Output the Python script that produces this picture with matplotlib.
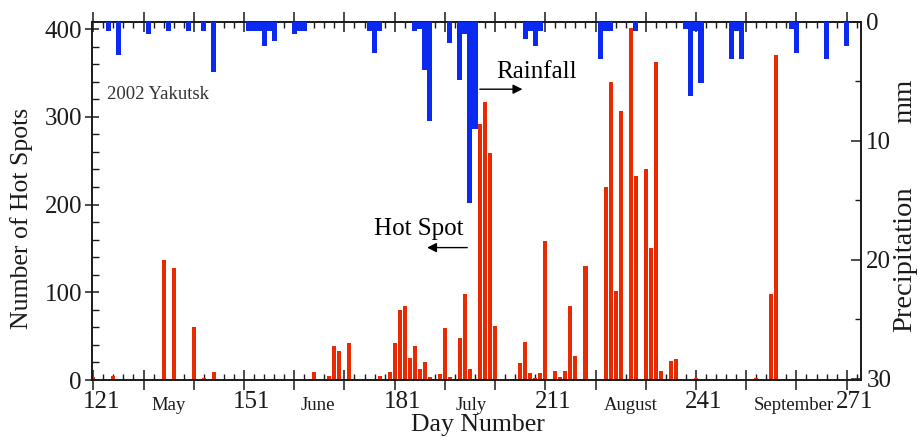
import matplotlib
matplotlib.use('Agg')
import matplotlib.pyplot as plt
from matplotlib.ticker import MultipleLocator, FuncFormatter
import matplotlib.transforms as mtransforms

# Hot spot counts per day
hs_days = [121, 125, 135, 137, 141, 143, 145, 165, 168, 169, 170, 172, 178, 180,
           181, 182, 183, 184, 185, 186, 187, 188, 190, 191, 192, 194, 195, 196,
           198, 199, 200, 201, 206, 207, 208, 209, 210, 211, 213, 214, 215, 216,
           217, 219, 223, 224, 225, 226, 228, 229, 231, 232, 233, 234, 236, 237,
           241, 253, 256, 257]
hs_vals = [3, 5, 137, 128, 60, 2, 9, 9, 5, 39, 33, 42, 5, 9,
           42, 80, 84, 25, 39, 12, 20, 3, 7, 59, 3, 48, 98, 13,
           292, 317, 259, 61, 19, 43, 8, 2, 8, 158, 10, 4, 10, 84,
           27, 130, 220, 340, 101, 306, 401, 233, 240, 151, 362, 10, 22, 24,
           2, 2, 98, 370]

# Precipitation (mm) per day
pr_days = [124, 126, 132, 136, 140, 143, 145, 152, 153, 154, 155, 156, 157, 161,
           162, 163, 176, 177, 178, 185, 186, 187, 188, 192, 194, 195, 196, 197,
           207, 208, 209, 210, 222, 223, 224, 229, 239, 240, 241, 242, 248, 249,
           250, 260, 261, 267, 271]
pr_vals = [0.8, 2.8, 1.0, 0.8, 0.8, 0.8, 4.2, 0.8, 0.8, 0.8, 2.0, 0.8, 1.6, 1.0,
           0.8, 0.8, 0.8, 2.6, 0.8, 0.8, 0.6, 4.0, 8.3, 1.8, 4.9, 1.0, 15.2, 9.0,
           1.4, 0.8, 2.0, 0.8, 3.1, 0.8, 0.8, 0.8, 0.6, 6.2, 0.8, 5.1, 3.1, 0.8,
           3.1, 0.6, 2.6, 3.1, 2.0]

day_label_ticks = [121, 151, 181, 211, 241, 271]
month_names = ['May', 'June', 'July', 'August', 'September']
month_pos = [136, 165.7, 196.2, 228, 260.4]

plt.rcParams['font.family'] = ['Liberation Serif', 'DejaVu Serif']
RED = '#E82A00'
BLUE = '#0A2AF2'
INK = '#1a1a1a'

fig = plt.figure(figsize=(9.18, 4.37), dpi=100)
ax = fig.add_axes([0.0999, 0.1304, 0.8377, 0.8193])
ax.bar(hs_days, hs_vals, width=0.8, color=RED, linewidth=0, zorder=2)
ax.set_xlim(120.68, 273.8)
ax.set_ylim(0, 408)

ax.xaxis.set_major_locator(MultipleLocator(10, offset=1))
ax.xaxis.set_minor_locator(MultipleLocator(2, offset=1))
ax.xaxis.set_major_formatter(FuncFormatter(
    lambda v, p: str(int(round(v))) if int(round(v)) in day_label_ticks else ''))
ax.yaxis.set_major_locator(MultipleLocator(100))
ax.yaxis.set_minor_locator(MultipleLocator(20))

ax.tick_params(axis='x', which='major', direction='inout', length=14, width=1.1,
               top=True, labelsize=18, pad=1, colors=INK)
ax.tick_params(axis='x', which='minor', direction='in', length=4, width=1.0, top=True,
               colors=INK)
ax.tick_params(axis='y', which='major', direction='inout', length=10, width=1.1,
               labelsize=18, pad=2, colors=INK)
ax.tick_params(axis='y', which='minor', direction='in', length=5, width=1.0, colors=INK)
for lab in ax.get_xticklabels():
    lab.set_transform(lab.get_transform() +
                      mtransforms.ScaledTranslation(0.08, 0, fig.dpi_scale_trans))

for sp in ax.spines.values():
    sp.set_linewidth(1.2)
    sp.set_color(INK)

ax2 = ax.twinx()
ax2.bar(pr_days, pr_vals, width=1.0, color=BLUE, linewidth=0, zorder=3)
ax2.set_ylim(30.1, 0)
ax2.yaxis.set_major_locator(MultipleLocator(10))
ax2.yaxis.set_minor_locator(MultipleLocator(5))
ax2.tick_params(axis='y', which='major', direction='in', length=7, width=1.1,
                labelsize=18, pad=4, colors=INK)
ax2.tick_params(axis='y', which='minor', direction='in', length=4, width=1.0, colors=INK)
for sp in ax2.spines.values():
    sp.set_linewidth(1.2)
    sp.set_color(INK)

# month labels under the axis
btrans = mtransforms.blended_transform_factory(ax.transData, ax.transAxes)
for name, pos in zip(month_names, month_pos):
    ax.text(pos, -0.07, name, transform=btrans, ha='center', va='center',
            fontsize=13.5, color=INK)

# annotations
ax.text(123.8, 325.7, '2002 Yakutsk', fontsize=13.5, color='#333333', va='center', ha='left')
ax.text(201.2, 351, 'Rainfall', fontsize=18, color='black', va='center', ha='left')
ax.annotate('', xy=(207.0, 331.4), xytext=(197.4, 331.4),
            arrowprops=dict(arrowstyle='-|>', color='black', lw=1.0, mutation_scale=14))
ax.text(176.9, 172.6, 'Hot Spot', fontsize=18, color='black', va='center', ha='left')
ax.annotate('', xy=(186.9, 150.9), xytext=(196.0, 150.9),
            arrowprops=dict(arrowstyle='-|>', color='black', lw=1.0, mutation_scale=14))

fig.text(478 / 918, 1 - 425 / 437, 'Day Number', ha='center', va='center', fontsize=18.5,
         color=INK)
fig.text(22 / 918, 1 - 218 / 437, 'Number of Hot Spots', ha='center', va='center',
         rotation=90, fontsize=18.5, color=INK)
fig.text(905 / 918, 1 - 259 / 437, 'Precipitation', ha='center', va='center',
         rotation=90, fontsize=20.5, color=INK)
fig.text(905 / 918, 1 - 101 / 437, 'mm', ha='center', va='center',
         rotation=90, fontsize=20.5, color=INK)

fig.savefig('out.png', dpi=100)
